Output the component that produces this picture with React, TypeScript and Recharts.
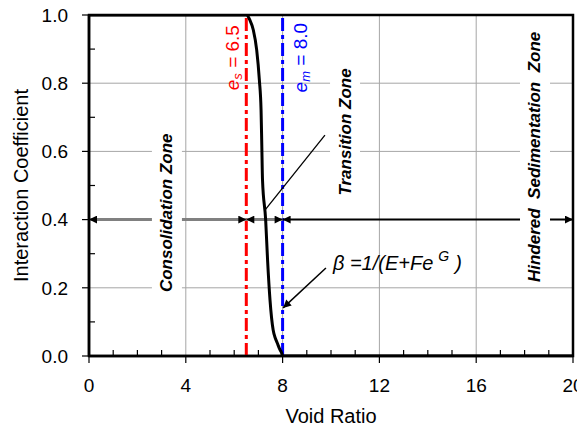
import React from 'react';
import {
  ComposedChart,
  Line,
  XAxis,
  YAxis,
  CartesianGrid,
  ReferenceLine,
  ReferenceDot,
  ReferenceArea,
} from 'recharts';

// ---- data ----
const voidRatio = [0, 6.5, 6.65, 6.79, 6.93, 7.04, 7.11, 7.14, 7.17, 7.3, 7.38, 7.48, 7.61, 7.7, 7.78, 7.88, 7.96, 8.0, 20];
const interactionCoef = [1, 1, 0.985, 0.956, 0.897, 0.809, 0.721, 0.62, 0.516, 0.399, 0.28, 0.164, 0.076, 0.052, 0.038, 0.02, 0.009, 0, 0];

const xTicks = [0, 4, 8, 12, 16, 20];
const yTicks = [0, 0.2, 0.4, 0.6, 0.8, 1.0];
const xAllTicks = [0, 1, 2, 3, 4, 5, 6, 7, 8, 9, 10, 11, 12, 13, 14, 15, 16, 17, 18, 19, 20];
const yAllTicks = [0, 0.1, 0.2, 0.3, 0.4, 0.5, 0.6, 0.7, 0.8, 0.9, 1.0];
const xDomain = [0, 20];
const yDomain = [0, 1];

const esValue = 6.5;
const emValue = 8.0;
const zoneLevel = 0.4;
const zoneBounds = [0, 6.5, 8, 20];
const zoneNames = ['Consolidation Zone', 'Transition Zone', 'Hindered  Sedimentation  Zone'];
const zoneLabelX = [3.22, 10.58, 18.43];
const zoneLabelY = [0.42, 0.657, 0.584];
const transitionPointer = [{ x: 9.75, y: 0.648 }, { x: 7.27, y: 0.428 }];
const betaPointer = [{ x: 9.79, y: 0.258 }, { x: 8.02, y: 0.141 }];
const betaLabelPos = { x: 10.08, y: 0.252 };
const esLabelPos = { x: 5.9, y: 0.875 };
const emLabelPos = { x: 8.72, y: 0.875 };

const data = voidRatio.map((x, i) => ({ x, y: interactionCoef[i] }));

const FONT = "'Liberation Sans', Arial, Helvetica, sans-serif";

const isMajor = (v: number, majors: number[]) => majors.some((m) => Math.abs(m - v) < 1e-6);

const XTick = (props: any) => {
  const { x, y, payload } = props;
  const v = payload.value;
  if (isMajor(v, xTicks)) {
    return (
      <g>
        <line x1={x} y1={y} x2={x} y2={y + 7} stroke="#000" strokeWidth={1.2} />
        <text x={x} y={y + 23} dy="0.71em" textAnchor="middle" fontFamily={FONT} fontSize={19} fill="#000">
          {String(v)}
        </text>
      </g>
    );
  }
  return <line x1={x} y1={y} x2={x} y2={y - 6} stroke="#000" strokeWidth={1.2} />;
};

const YTick = (props: any) => {
  const { x, y, payload } = props;
  const v = payload.value;
  if (isMajor(v, yTicks)) {
    return (
      <g>
        <line x1={x - 7} y1={y} x2={x} y2={y} stroke="#000" strokeWidth={1.2} />
        <text x={x - 21} y={y} dy="0.355em" textAnchor="end" fontFamily={FONT} fontSize={19} fill="#000">
          {v.toFixed(1)}
        </text>
      </g>
    );
  }
  return <line x1={x} y1={y} x2={x + 6} y2={y} stroke="#000" strokeWidth={1.2} />;
};

const vGrid = (args: any) => {
  const ax = args.xAxis;
  if (ax && typeof ax.scale === 'function') return xTicks.map((v) => ax.scale(v));
  const o = args.offset;
  return xTicks.map((v) => o.left + ((v - xDomain[0]) / (xDomain[1] - xDomain[0])) * o.width);
};
const hGrid = (args: any) => {
  const ax = args.yAxis;
  if (ax && typeof ax.scale === 'function') return yTicks.map((v) => ax.scale(v));
  const o = args.offset;
  return yTicks.map((v) => o.top + o.height - ((v - yDomain[0]) / (yDomain[1] - yDomain[0])) * o.height);
};

const zoneLabelShape = (text: string) => (p: any) => {
  const { cx, cy } = p;
  const len = text.length * 8.6;
  return (
    <g>
      <rect x={cx - 15} y={cy - len / 2} width={30} height={len} fill="#ffffff" />
      <text
        x={cx}
        y={cy}
        transform={`rotate(-90 ${cx} ${cy})`}
        textAnchor="middle"
        dominantBaseline="central"
        fontFamily={FONT}
        fontSize={17}
        fontWeight="bold"
        fontStyle="italic"
        fill="#000"
        style={{ whiteSpace: 'pre' }}
      >
        {text}
      </text>
    </g>
  );
};

const eLabelShape = (sub: string, val: string, color: string) => (p: any) => {
  const { cx, cy } = p;
  return (
    <text
      x={cx}
      y={cy}
      transform={`rotate(-90 ${cx} ${cy})`}
      textAnchor="middle"
      dominantBaseline="central"
      fontFamily={FONT}
      fontSize={19}
      fill={color}
    >
      <tspan fontStyle="italic">e</tspan>
      <tspan fontSize={13} fontStyle="italic" dy={5}>{sub}</tspan>
      <tspan dy={-5}>{` = ${val}`}</tspan>
    </text>
  );
};

const betaShape = (p: any) => {
  const { cx, cy } = p;
  return (
    <text x={cx} y={cy} fontFamily={FONT} fontSize={20} fontStyle="italic" fill="#000">
      <tspan>{'\u03B2 =1/(E+Fe'}</tspan>
      <tspan fontSize={14} dy={-9} dx={5}>G</tspan>
      <tspan dy={9} dx={6}>)</tspan>
    </text>
  );
};

const YTitle = (props: any) => {
  const vb = props.viewBox || { x: 0, y: 7, width: 81, height: 341 };
  const cx = vb.x + 13;
  const cy = vb.y + vb.height / 2;
  return (
    <text
      x={cx}
      y={cy}
      transform={`rotate(-90 ${cx} ${cy})`}
      textAnchor="middle"
      dominantBaseline="central"
      fontFamily={FONT}
      fontSize={20}
      fill="#000"
    >
      Interaction Coefficient
    </text>
  );
};

const XTitle = (props: any) => {
  const vb = props.viewBox || { x: 81, y: 348, width: 484, height: 74 };
  const cx = vb.x + vb.width / 2;
  const cy = vb.y + 60;
  return (
    <text x={cx} y={cy} textAnchor="middle" dominantBaseline="central" fontFamily={FONT} fontSize={20} fill="#000">
      Void Ratio
    </text>
  );
};

export default function App() {
  return (
    <div style={{ position: 'relative', width: 577, height: 422 }}>
      <style>{'.recharts-surface{overflow:visible}'}</style>
      <svg width={0} height={0} style={{ position: 'absolute' }}>
        <defs>
          <marker id="arrEnd" viewBox="0 0 10 10" refX="10" refY="5" markerWidth="9" markerHeight="8" markerUnits="userSpaceOnUse" orient="auto">
            <path d="M0,0 L10,5 L0,10 z" fill="#000" />
          </marker>
          <marker id="arrStart" viewBox="0 0 10 10" refX="10" refY="5" markerWidth="9" markerHeight="8" markerUnits="userSpaceOnUse" orient="auto-start-reverse">
            <path d="M0,0 L10,5 L0,10 z" fill="#000" />
          </marker>
        </defs>
      </svg>
      <ComposedChart width={577} height={422} data={data} margin={{ top: 7, right: 12, left: 0, bottom: 0 }}>
        <CartesianGrid
          stroke="#a6a6a6"
          strokeWidth={1}
          verticalCoordinatesGenerator={vGrid}
          horizontalCoordinatesGenerator={hGrid}
        />
        <XAxis
          type="number"
          dataKey="x"
          domain={xDomain}
          allowDataOverflow
          ticks={xAllTicks}
          interval={0}
          height={74}
          tickSize={0}
          tickMargin={0}
          tick={<XTick />}
          tickLine={false}
          axisLine={{ stroke: '#000', strokeWidth: 2.5 }}
          label={<XTitle />}
        />
        <YAxis
          type="number"
          domain={yDomain}
          allowDataOverflow
          ticks={yAllTicks}
          interval={0}
          width={81}
          tickSize={0}
          tickMargin={0}
          tick={<YTick />}
          tickLine={false}
          axisLine={{ stroke: '#000', strokeWidth: 2.5 }}
          label={<YTitle />}
        />
        <ReferenceArea x1={0} x2={20} y1={0} y2={1} fill="none" stroke="#000" strokeWidth={2.5} />
        <ReferenceLine x={esValue} stroke="#ff0000" strokeWidth={3} strokeDasharray="13 4 4 4" />
        <ReferenceLine x={emValue} stroke="#0000ff" strokeWidth={3} strokeDasharray="13 4 4 4" />
        <ReferenceLine
          segment={[{ x: zoneBounds[0], y: zoneLevel }, { x: zoneBounds[1], y: zoneLevel }]}
          stroke="#808080"
          strokeWidth={3}
          markerStart="url(#arrStart)"
          markerEnd="url(#arrEnd)"
        />
        <ReferenceLine
          segment={[{ x: zoneBounds[1], y: zoneLevel }, { x: zoneBounds[2], y: zoneLevel }]}
          stroke="#808080"
          strokeWidth={3}
          markerStart="url(#arrStart)"
          markerEnd="url(#arrEnd)"
        />
        <ReferenceLine
          segment={[{ x: zoneBounds[2], y: zoneLevel }, { x: zoneBounds[3], y: zoneLevel }]}
          stroke="#000"
          strokeWidth={2}
          markerStart="url(#arrStart)"
          markerEnd="url(#arrEnd)"
        />
        <ReferenceLine segment={transitionPointer} stroke="#000" strokeWidth={1.3} />
        <ReferenceLine segment={betaPointer} stroke="#000" strokeWidth={1.5} markerEnd="url(#arrEnd)" />
        <Line
          dataKey="y"
          type="monotoneX"
          stroke="#000"
          strokeWidth={3}
          dot={false}
          activeDot={false}
          isAnimationActive={false}
        />
        {zoneNames.map((name, i) => (
          <ReferenceDot key={name} x={zoneLabelX[i]} y={zoneLabelY[i]} r={1} shape={zoneLabelShape(name)} />
        ))}
        <ReferenceDot x={esLabelPos.x} y={esLabelPos.y} r={1} shape={eLabelShape('s', '6.5', '#ff0000')} />
        <ReferenceDot x={emLabelPos.x} y={emLabelPos.y} r={1} shape={eLabelShape('m', '8.0', '#0000ff')} />
        <ReferenceDot x={betaLabelPos.x} y={betaLabelPos.y} r={1} shape={betaShape} />
      </ComposedChart>
    </div>
  );
}
